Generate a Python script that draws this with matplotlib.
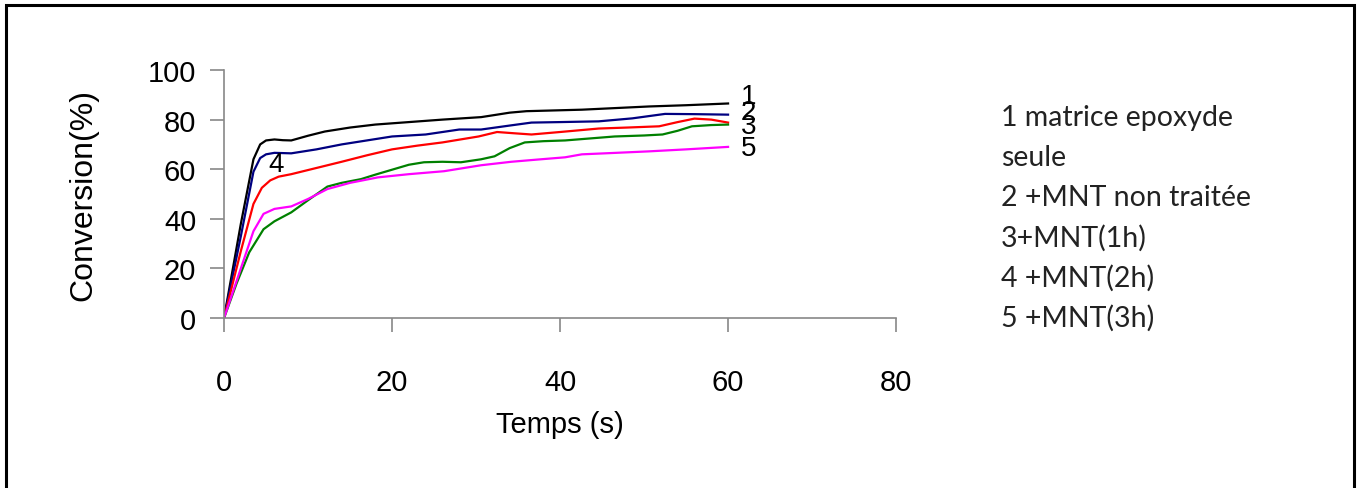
import matplotlib
matplotlib.use("Agg")
import matplotlib.pyplot as plt
from matplotlib.patches import Rectangle

# Conversion curves (time in s, conversion in %)
t1 = [0, 2, 3.5, 4.3, 5, 6, 7, 8, 10, 12, 15, 18, 22, 26, 30.6, 32.5, 34, 36, 42.6, 50.6, 55, 60]
c1 = [0, 38, 64, 70, 71.6, 72, 71.7, 71.6, 73.5, 75.2, 76.8, 78, 79, 80, 81, 82, 82.8, 83.4, 84, 85.3, 85.8, 86.5]

t2 = [0, 2, 3.5, 4.3, 5, 6, 8, 11, 14, 17, 20, 24, 28, 30.6, 34, 36.6, 40, 44.6, 48.6, 52.5, 56, 60]
c2 = [0, 33, 59, 64.5, 66, 66.6, 66.4, 68, 70, 71.6, 73.2, 74, 76, 76, 77.6, 78.8, 79, 79.3, 80.5, 82.3, 82.2, 82]

t3 = [0, 2, 3.5, 4.5, 5.5, 6.5, 8, 11, 14, 17, 20, 23, 26, 30.3, 32.5, 34.5, 36.6, 40, 44.6, 48, 51.8, 54, 56, 58, 60]
c3 = [0, 27, 46, 52.5, 55.5, 57, 58, 60.5, 63, 65.6, 68, 69.5, 70.8, 73.2, 75, 74.5, 74, 75, 76.4, 76.8, 77.3, 79, 80.4, 80, 78.8]

t4 = [0, 1.5, 3, 4.7, 6, 8, 10, 12.3, 14, 16.3, 18, 20.2, 22, 23.8, 26, 28.2, 30.6, 32.2, 34, 35.8, 38, 40.6, 46.5, 50, 52.2, 54, 55.7, 58, 60]
c4 = [0, 14, 26.5, 35.8, 39, 42.6, 47.5, 53, 54.5, 56, 57.8, 60, 61.8, 62.8, 63, 62.8, 64, 65.2, 68.5, 70.8, 71.3, 71.6, 73.2, 73.6, 74, 75.5, 77.3, 77.8, 78]

t5 = [0, 2, 3.5, 4.7, 6, 8, 10, 12.3, 15, 18.3, 22, 26.2, 30.6, 34.2, 37, 40.6, 42.6, 46, 50.6, 55, 60]
c5 = [0, 20, 35, 42, 44, 45, 48, 52, 54.5, 56.7, 58, 59.2, 61.6, 63, 63.8, 64.8, 66, 66.5, 67.2, 68, 69]

legend_lines = ["1 matrice epoxyde", "seule", "2 +MNT non traitée",
                "3+MNT(1h)", "4 +MNT(2h)", "5 +MNT(3h)"]

plt.rcParams['font.family'] = ['Liberation Sans', 'DejaVu Sans']

fig = plt.figure(figsize=(13.62, 4.89), dpi=100)
ax = fig.add_axes([0.1645, 0.3476, 0.4934, 0.5072])

ax.plot(t1, c1, color='black', lw=1.6)
ax.plot(t2, c2, color='#000080', lw=1.6)
ax.plot(t3, c3, color='red', lw=1.6)
ax.plot(t4, c4, color='green', lw=1.6)
ax.plot(t5, c5, color='magenta', lw=1.6)

# curve numbers (they overlap a little in the original too)
for lab, yy in [("1", 89.5), ("2", 83), ("3", 77.4), ("5", 68.5)]:
    ax.text(62.4, yy, lab, fontsize=20, ha='center', va='center')
ax.text(6.2, 62, "4", fontsize=20, ha='center', va='center')

ax.set_xlim(0, 80)
ax.set_ylim(0, 100)
ax.set_xticks([0, 20, 40, 60, 80])
ax.set_yticks([0, 20, 40, 60, 80, 100])
for s in ['top', 'right']:
    ax.spines[s].set_visible(False)
for s in ['left', 'bottom']:
    ax.spines[s].set_color('#888888')
    ax.spines[s].set_linewidth(1.2)
ax.tick_params(axis='both', colors='#888888', labelcolor='black', length=10,
               width=1.2, labelsize=21)
ax.tick_params(axis='x', pad=26)
ax.tick_params(axis='y', pad=10)
ax.set_xlabel("Temps (s)", fontsize=21, labelpad=10)
ax.set_ylabel("Conversion(%)", fontsize=23, labelpad=36)

for i, line in enumerate(legend_lines):
    fig.text(1001 / 1362, 1 - (118 + i * 40) / 489, line, fontsize=20.5,
             family=['Lato', 'DejaVu Sans'], ha='left', va='center', color='#222222')

# outer frame (bottom edge cut off in the reference)
fig.add_artist(Rectangle((6 / 1362, -0.1), (1354 - 6) / 1362, 1.1 - 6 / 489,
                         transform=fig.transFigure, fill=False,
                         edgecolor='black', lw=2.2))

fig.savefig("out.png", dpi=100)
